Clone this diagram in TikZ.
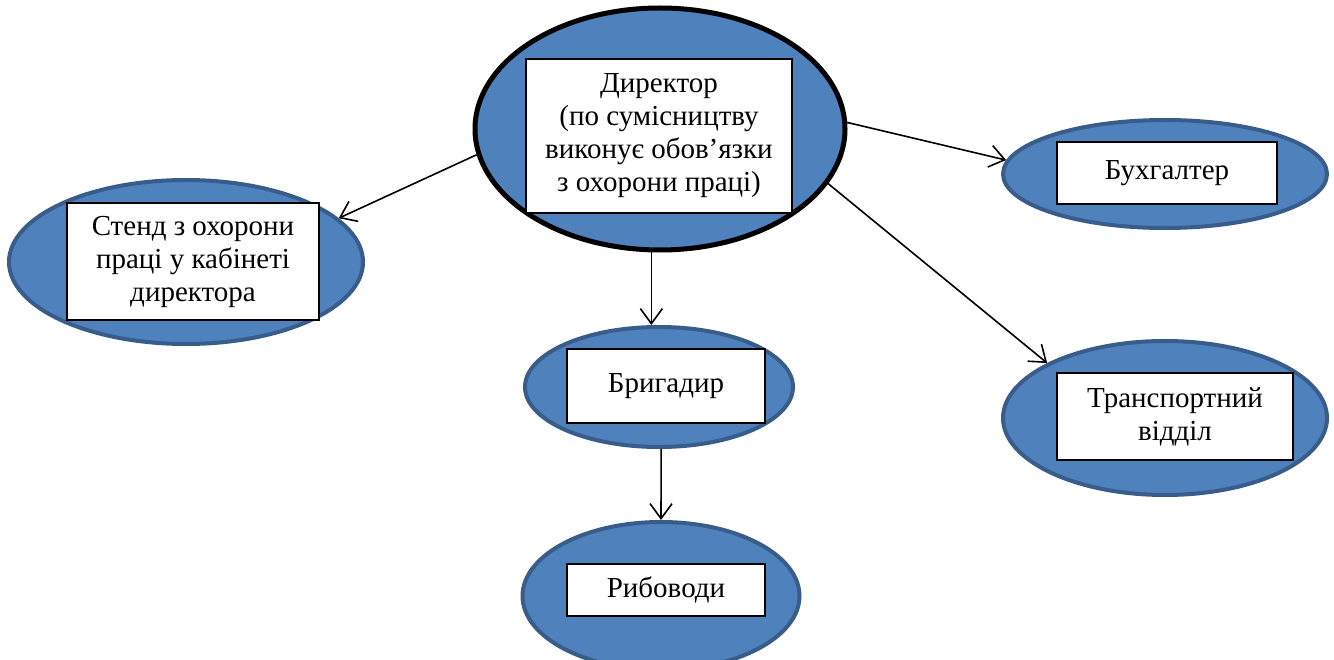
\documentclass[tikz,border=0pt]{standalone}
\usepackage{fontspec}
\setmainfont{Liberation Serif}
\usetikzlibrary{shapes.geometric,arrows.meta}
\definecolor{ellfill}{HTML}{4F81BD}
\definecolor{ellline}{HTML}{385D8A}
\tikzset{
  oval/.style={ellipse, draw=ellline, line width=4pt, fill=ellfill, inner sep=0pt},
  card/.style={rectangle, draw=black, line width=1.3pt, fill=white, inner sep=0pt, align=center,
    font=\fontsize{29}{33}\selectfont},
  link/.style={line width=1.6pt, -{Straight Barb[length=15pt,width=22pt,line width=1.6pt]}}
}
\begin{document}
\begin{tikzpicture}[x=1pt,y=-1pt]
\useasboundingbox (0,0) rectangle (1334,660);
\clip (0,0) rectangle (1334,660);
% ellipses
\node[oval, draw=black, line width=5pt, minimum width=370pt, minimum height=242pt] (dir) at (660,129) {};
\node[oval, minimum width=354pt, minimum height=164pt] (stend) at (186,262) {};
\node[oval, minimum width=324pt, minimum height=108pt] (buh) at (1165,174) {};
\node[oval, minimum width=324pt, minimum height=154pt] (tran) at (1165,418) {};
\node[oval, minimum width=268pt, minimum height=120pt] (brig) at (659,387) {};
\node[oval, minimum width=277pt, minimum height=148pt] (ryb) at (661,596) {};
% cards
\node[card, minimum width=266pt, minimum height=154pt] (dirt) at (659,136) {Директор\\(по сумісництву\\виконує обов’язки\\з охорони праці)};
\node[card, minimum width=252pt, minimum height=117pt] (stendt) at (193,261.5) {Стенд з охорони\\праці у кабінеті\\директора};
\node[card, minimum width=220pt, minimum height=62pt] (buht) at (1167,173) {Бухгалтер};
\node[card, minimum width=236pt, minimum height=87pt] (trant) at (1175,416.5) {Транспортний\\відділ};
\node[card, minimum width=198pt, minimum height=74pt] (brigt) at (666,386) {Бригадир};
\node[card, minimum width=198pt, minimum height=52pt] (rybt) at (666,590) {Рибоводи};
% connectors
\draw[link] (dir.188.7) -- (stend.16.1);
\draw[link] (dir.2.8) -- (buh.175.8);
\draw[link] (dir.-18.9) -- (tran.155.2);
\draw[link] (dir.266) -- (brig.north -| dir.266);
\draw[link] (brig.272) -- (ryb.north);
\end{tikzpicture}
\end{document}
